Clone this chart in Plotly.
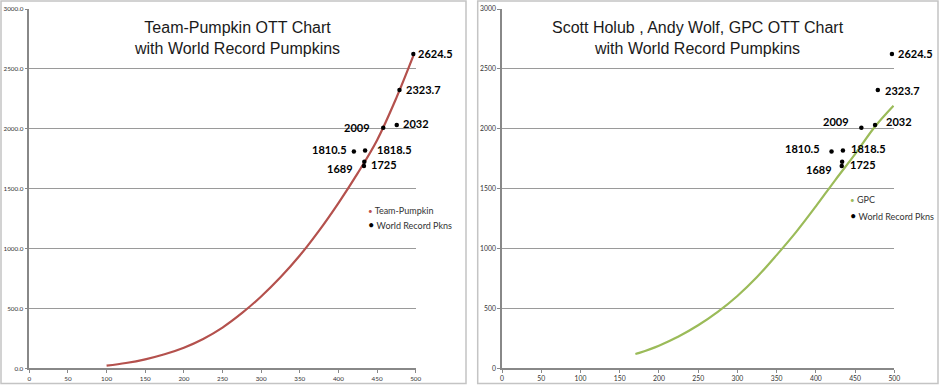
import plotly.graph_objects as go

# ---- data ----
tp_ott = [100, 125, 150, 175, 200, 225, 250, 275, 300, 325, 350, 375, 400, 425, 450, 475, 497]
tp_weight = [22, 44, 75, 117, 172, 245, 340, 460, 600, 760, 942, 1150, 1380, 1630, 1905, 2258, 2610]

gpc_ott = [170, 175, 200, 225, 250, 275, 300, 325, 350, 375, 400, 425, 450, 475, 499]
gpc_weight = [119, 129, 189, 265, 359, 471, 604, 762, 945, 1139, 1352, 1574, 1788, 2015, 2192]

wr_ott = [497, 479, 475.5, 458, 434.5, 420, 433.5, 433]
wr_weight = [2624.5, 2323.7, 2032, 2009, 1818.5, 1810.5, 1725, 1689]

x_ticks = [0, 50, 100, 150, 200, 250, 300, 350, 400, 450, 500]
y_ticks = [0, 500, 1000, 1500, 2000, 2500, 3000]

# ---- label placement styles (pixel offsets) ----
left_offsets = [(4, 0, "left"), (6, 0, "left"), (5, 1, "left"), (-12, 0, "right"),
                (11, 1, "left"), (-6, 2, "right"), (6, -2.5, "left"), (-10, -2, "right")]
right_offsets = [(5, 0, "left"), (6.5, -1, "left"), (10, 3, "left"), (-11, 6, "right"),
                 (7, 2, "left"), (-10.7, 3, "right"), (6.7, -2.5, "left"), (-9, -3, "right")]

W, H = 939, 386
def px_x(p):
    return p / W
def px_y(p):
    return 1 - p / H

fig = go.Figure()

fig.add_trace(go.Scatter(x=tp_ott, y=tp_weight, mode="lines", name="Team-Pumpkin",
                         line=dict(color="#b4514d", width=2.2, shape="spline"),
                         xaxis="x", yaxis="y", showlegend=False))
fig.add_trace(go.Scatter(x=wr_ott, y=wr_weight, mode="markers", name="World Record Pkns",
                         marker=dict(color="black", size=4.5),
                         xaxis="x", yaxis="y", showlegend=False))
fig.add_trace(go.Scatter(x=gpc_ott, y=gpc_weight, mode="lines", name="GPC",
                         line=dict(color="#9bbb59", width=2.2, shape="spline"),
                         xaxis="x2", yaxis="y2", showlegend=False))
fig.add_trace(go.Scatter(x=wr_ott, y=wr_weight, mode="markers", name="World Record Pkns",
                         marker=dict(color="black", size=4.5),
                         xaxis="x2", yaxis="y2", showlegend=False))

annotations = []
label_font = dict(family="Lato", size=11, color="black", weight="bold")
for axes, offs in (("", left_offsets), ("2", right_offsets)):
    for xv, yv, (dx, dy, anc) in zip(wr_ott, wr_weight, offs):
        annotations.append(dict(
            x=xv, y=yv, xref="x" + axes, yref="y" + axes,
            text=f"{yv:g}", showarrow=False, font=label_font,
            xanchor=anc, xshift=dx, yshift=dy, borderpad=0))

title_font = dict(family="Liberation Sans", size=16, color="#1a1a1a")
annotations.append(dict(x=px_x(237), y=px_y(38), xref="paper", yref="paper",
                        text="Team-Pumpkin OTT Chart<br>with World Record Pumpkins",
                        showarrow=False, font=title_font, xanchor="center", yanchor="middle"))
annotations.append(dict(x=px_x(698), y=px_y(38), xref="paper", yref="paper",
                        text="Scott Holub , Andy Wolf, GPC OTT Chart<br>with World Record Pumpkins",
                        showarrow=False, font=title_font, xanchor="center", yanchor="middle"))

leg_font = dict(family="Lato", size=9, color="#333333")
def legend_entry(xp, yp, color, name, big):
    sz = 11 if big else 8
    annotations.append(dict(x=px_x(xp), y=px_y(yp), xref="paper", yref="paper",
                            text=f"<span style='color:{color};font-size:{sz}px'>•</span> {name}",
                            showarrow=False, font=leg_font, xanchor="left", yanchor="middle"))
legend_entry(366, 210, "#c0504d", "Team-Pumpkin", False)
legend_entry(366, 225, "black", "World Record Pkns", True)
legend_entry(848, 200, "#9bbb59", "GPC", False)
legend_entry(848, 215, "black", "World Record Pkns", True)

shapes = [
    dict(type="rect", xref="paper", yref="paper", x0=px_x(1), x1=px_x(466), y0=px_y(383.5), y1=px_y(1),
         line=dict(color="#c4c4c4", width=1.5)),
    dict(type="rect", xref="paper", yref="paper", x0=px_x(477.7), x1=px_x(938), y0=px_y(383.5), y1=px_y(1),
         line=dict(color="#c4c4c4", width=1.5)),
]

def xaxis(domain, size):
    return dict(domain=domain, range=[0, 500], tickvals=x_ticks, ticks="outside", ticklen=3,
                tickcolor="#888888", showline=True, linecolor="#888888", linewidth=1.5,
                showgrid=False, zeroline=False, fixedrange=True, automargin=False,
                tickfont=dict(family="Lato", size=size, color="#333333"))

def yaxis(anchor, fmt, size):
    return dict(domain=[px_y(368.3), px_y(9)], range=[0, 3000], tickvals=y_ticks,
                tickformat=fmt, ticks="outside", ticklen=3, tickcolor="#888888",
                showline=True, linecolor="#888888", linewidth=1.5, anchor=anchor,
                showgrid=True, gridcolor="#9a9a9a", gridwidth=1.3, zeroline=False,
                automargin=False, fixedrange=True,
                tickfont=dict(family="Lato", size=size, color="#333333"))

fig.update_layout(
    width=W, height=H, margin=dict(l=0, r=0, t=0, b=0, pad=0, autoexpand=False),
    paper_bgcolor="white", plot_bgcolor="white",
    xaxis=dict(**xaxis([px_x(29.3), px_x(415.7)], 6.3), anchor="y"),
    yaxis=yaxis("x", ".1f", 6.3),
    xaxis2=dict(**xaxis([px_x(502), px_x(894.3)], 6.8), anchor="y2"),
    yaxis2=yaxis("x2", "d", 6.8),
    annotations=annotations, shapes=shapes, showlegend=False,
)

fig.write_html("out.html",
               post_script="document.body.style.margin='0';document.body.style.overflow='hidden';")
